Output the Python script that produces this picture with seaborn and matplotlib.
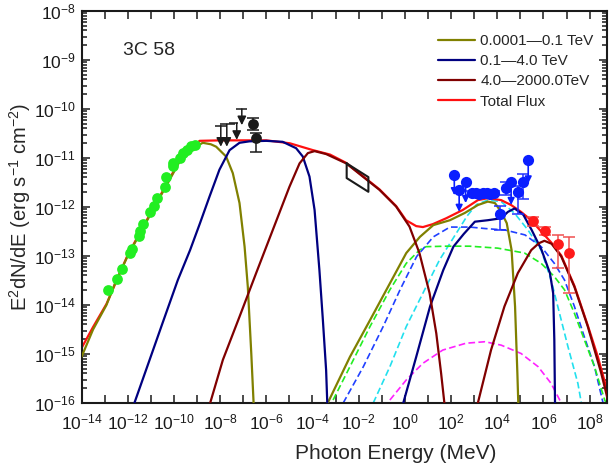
import numpy as np
import matplotlib
matplotlib.use("Agg")
import matplotlib.pyplot as plt
import seaborn as sns
from matplotlib.ticker import FixedLocator, FuncFormatter, LogLocator, NullFormatter

# ---------------- data (log10 E [MeV], log10 E^2dN/dE [erg s^-1 cm^-2]) ----------------
# model curves
olive_sync_x = [-14.0, -13.5, -12.92, -12.5, -12.0, -11.4, -10.84, -10.25, -9.67, -9.18, -8.75, -8.4,
                -8.17, -7.74, -7.45, -7.16, -6.94, -6.80, -6.65, -6.55]
olive_sync_y = [-15.06, -14.50, -14.0, -13.5, -13.0, -12.48, -12.0, -11.5, -11.0, -10.80, -10.69, -10.72,
                -10.77, -10.97, -11.31, -11.92, -12.81, -13.63, -14.99, -16.0]
olive_ic_x = [-3.34, -2.38, -1.51, -0.65, 0.06, 0.65, 1.23, 1.95, 2.60, 3.16, 3.59, 3.90, 4.17, 4.41,
              4.62, 4.77, 4.87, 4.91]
olive_ic_y = [-16.0, -15.06, -14.31, -13.56, -12.94, -12.61, -12.37, -12.27, -12.12, -11.96, -11.89,
              -11.92, -12.10, -12.33, -12.88, -14.03, -15.39, -16.0]

navy_sync_x = [-11.71, -11.0, -10.5, -9.83, -9.30, -8.87, -8.46, -8.03, -7.59, -7.16, -6.73, -6.0,
               -5.29, -4.71, -4.42, -4.13, -3.91, -3.70, -3.55, -3.41, -3.36]
navy_sync_y = [-16.0, -15.05, -14.38, -13.49, -12.88, -12.33, -11.79, -11.24, -10.84, -10.69, -10.66,
               -10.65, -10.67, -10.80, -10.97, -11.38, -12.06, -13.29, -14.31, -15.33, -16.0]
navy_ic_x = [-0.07, 0.49, 1.09, 1.66, 2.10, 2.55, 3.03, 3.59, 4.17, 4.46, 4.75, 5.13, 5.49, 5.92,
             6.28, 6.42, 6.47, 6.50]
navy_ic_y = [-16.0, -15.06, -14.03, -13.29, -12.81, -12.55, -12.30, -12.27, -12.23, -12.10, -12.03,
             -12.16, -12.47, -12.88, -13.35, -13.76, -14.71, -16.0]

dred_sync_x = [-8.43, -7.88, -7.16, -6.44, -5.72, -5.00, -4.56, -4.20, -3.91, -3.41, -2.54, -1.82,
               -1.10, -0.38, 0.20, 0.63, 1.07, 1.36, 1.57, 1.71]
dred_sync_y = [-16.0, -15.12, -14.24, -13.35, -12.47, -11.59, -11.11, -10.90, -10.86, -10.92, -11.11,
               -11.38, -11.65, -11.99, -12.40, -12.94, -13.76, -14.58, -15.40, -16.0]
dred_ic_x = [3.16, 3.73, 4.31, 4.89, 5.47, 5.80, 6.04, 6.35, 6.77, 7.34, 7.92, 8.50, 8.79]
dred_ic_y = [-16.0, -14.92, -14.03, -13.35, -12.88, -12.74, -12.69, -12.75, -13.01, -13.63, -14.44,
             -15.39, -15.94]

total_x = [-14.0, -13.5, -12.92, -12.0, -10.84, -9.67, -9.18, -8.89, -8.0, -7.0, -6.0, -4.98, -3.98,
           -3.24, -2.54, -1.82, -1.10, -0.38, 0.05, 0.49, 0.78, 1.21, 1.79, 2.51, 3.16, 3.59, 4.17,
           4.60, 5.03, 5.47, 5.90, 6.33, 6.77, 7.34, 7.92, 8.35, 8.79]
total_y = [-14.88, -14.45, -13.98, -12.98, -11.98, -10.98, -10.78, -10.65, -10.64, -10.64, -10.64,
           -10.70, -10.84, -10.93, -11.10, -11.37, -11.64, -11.98, -12.27, -12.39, -12.41, -12.35,
           -12.23, -12.06, -11.86, -11.82, -11.86, -11.96, -12.10, -12.27, -12.50, -12.72, -12.99,
           -13.61, -14.42, -15.05, -15.80]

green_dash_x = [-3.11, -2.38, -1.51, -0.65, 0.06, 0.63, 0.92, 1.79, 2.80, 4.02, 5.18, 5.90, 6.47,
                6.91, 7.34, 7.77, 8.21, 8.65, 8.72]
green_dash_y = [-15.94, -15.26, -14.44, -13.69, -13.15, -12.88, -12.81, -12.80, -12.80, -12.84, -12.94,
                -13.15, -13.42, -13.69, -14.17, -14.71, -15.26, -15.94, -16.0]
blue_dash_x = [-2.67, -1.80, -0.94, -0.21, 0.51, 1.23, 1.95, 2.82, 3.47, 4.34, 5.20, 5.90, 6.47, 6.91,
               7.34, 7.77, 8.21, 8.58]
blue_dash_y = [-16.0, -15.26, -14.44, -13.69, -13.01, -12.61, -12.41, -12.41, -12.44, -12.47, -12.57,
               -12.81, -13.15, -13.49, -14.03, -14.65, -15.26, -16.0]
cyan_dash_x = [-1.37, -0.65, 0.06, 0.78, 1.50, 2.22, 2.70, 3.10, 3.59, 4.17, 4.75, 5.33, 5.90, 6.33,
               6.62, 7.06, 7.49, 7.64]
cyan_dash_y = [-16.0, -15.26, -14.44, -13.76, -13.08, -12.54, -12.18, -11.95, -11.86, -11.89, -12.13,
               -12.47, -12.88, -13.49, -14.03, -14.85, -15.60, -16.0]
mag_dash_x = [-0.65, 0.06, 0.78, 1.64, 2.65, 3.47, 4.17, 5.03, 5.77, 6.33, 6.77]
mag_dash_y = [-15.94, -15.53, -15.19, -14.92, -14.78, -14.75, -14.82, -14.99, -15.26, -15.60, -16.0]

# observations
radio_x = [-12.86, -12.47, -12.26, -11.92, -11.81, -11.52, -11.45, -11.32, -11.04, -10.88, -10.72,
           -10.38, -10.33, -10.02, -10.05, -9.73, -9.59, -9.44, -9.25, -9.07]
radio_y = [-13.69, -13.47, -13.27, -12.93, -12.86, -12.59, -12.50, -12.35, -12.10, -11.98, -11.82,
           -11.60, -11.39, -11.16, -11.10, -10.99, -10.90, -10.84, -10.75, -10.73]

ir_ul_x = [-7.97, -7.71, -7.28, -7.06]
ir_ul_xlo = [-8.22, -8.00, -7.61, -7.31]
ir_ul_xhi = [-7.71, -7.36, -7.23, -6.85]
ir_ul_y = [-10.34, -10.31, -10.29, -10.00]
ir_ul_tip = [-10.77, -10.77, -10.63, -10.33]

opt_x = [-6.59, -6.45]
opt_y = [-10.31, -10.60]
opt_lo = [-10.43, -10.87]
opt_hi = [-10.18, -10.48]

xray_box_x = [-2.52, -1.58, -1.58, -2.52, -2.52]
xray_box_y = [-11.11, -11.39, -11.69, -11.41, -11.11]

lat_x = [2.89, 3.06, 3.22, 3.38, 3.54, 3.70, 3.88, 4.12, 4.36, 4.88, 5.13]
lat_y = [-11.72, -11.72, -11.73, -11.72, -11.71, -11.73, -11.72, -12.15, -11.62, -11.69, -11.50]
lat_lo = [-11.76, -11.76, -11.77, -11.76, -11.75, -11.77, -11.76, -12.47, -11.75, -12.15, -11.83]
lat_hi = [-11.68, -11.68, -11.69, -11.68, -11.67, -11.69, -11.68, -11.99, -11.48, -11.58, -11.33]
lat_ul_x = [2.14, 2.35, 2.63, 4.60, 5.34]
lat_ul_y = [-11.35, -11.65, -11.48, -11.50, -11.04]
lat_ul_tip = [-11.76, -12.10, -11.92, -11.96, -11.52]

tev_x = [5.56, 6.07, 6.61, 7.10]
tev_y = [-12.29, -12.48, -12.76, -12.93]
tev_lo = [-12.38, -12.58, -13.25, -13.76]
tev_hi = [-12.20, -12.40, -12.57, -12.61]

legend_labels = ["0.0001\u20140.1 TeV", "0.1\u20144.0 TeV", "4.0\u20142000.0TeV", "Total Flux"]
source_name = "3C 58"

# ---------------- style ----------------
sns.set_theme(style="ticks")
plt.rcParams["font.family"] = ["Liberation Sans", "DejaVu Sans"]
plt.rcParams["mathtext.fontset"] = "custom"
plt.rcParams["mathtext.rm"] = "Liberation Sans"
plt.rcParams["mathtext.it"] = "Liberation Sans:italic"
plt.rcParams["mathtext.bf"] = "Liberation Sans:bold"

P = lambda a: 10.0 ** np.asarray(a, dtype=float)

fig = plt.figure(figsize=(6.12, 4.70), dpi=100)
ax = fig.add_axes([0.1332, 0.1426, 0.9918 - 0.1332, 0.9766 - 0.1426])
ax.set_xscale("log")
ax.set_yscale("log")


def curve(xs, ys, color, lw=1.5, ls="-", z=2, label=None):
    sns.lineplot(x=P(xs), y=P(ys), sort=False, estimator=None, ax=ax, color=color,
                 linewidth=lw, linestyle=ls, zorder=z, label=label, legend=False)
    return ax.lines[-1]


dash = (0, (4, 2))
curve(mag_dash_x, mag_dash_y, "#ff22ff", lw=1.2, ls=dash, z=1)
curve(cyan_dash_x, cyan_dash_y, "#22e0ee", lw=1.2, ls=dash, z=1)
curve(blue_dash_x, blue_dash_y, "#2040ff", lw=1.2, ls=dash, z=1)
curve(green_dash_x, green_dash_y, "#22ee22", lw=1.2, ls=dash, z=1)

h_tot = curve(total_x, total_y, "#ff1010", lw=1.6, z=2)
h_ol = curve(olive_sync_x, olive_sync_y, "#808000", lw=1.6, z=3)
curve(olive_ic_x, olive_ic_y, "#808000", lw=1.6, z=3)
h_nv = curve(navy_sync_x, navy_sync_y, "#000080", lw=1.6, z=3)
curve(navy_ic_x, navy_ic_y, "#000080", lw=1.6, z=3)
h_dr = curve(dred_sync_x, dred_sync_y, "#800000", lw=1.6, z=3)
curve(dred_ic_x, dred_ic_y, "#800000", lw=1.6, z=3)

# radio points
sns.scatterplot(x=P(radio_x), y=P(radio_y), color="#22ee22", s=60, linewidth=0, ax=ax, zorder=5,
                legend=False)

# IR upper limits
ax.hlines(P(ir_ul_y), P(ir_ul_xlo), P(ir_ul_xhi), color="k", lw=1.1, zorder=5)
for x, y, t in zip(ir_ul_x, ir_ul_y, ir_ul_tip):
    ax.annotate("", xy=(P(x), P(t)), xytext=(P(x), P(y)),
                arrowprops=dict(arrowstyle="-|>", color="k", lw=1.1, mutation_scale=13,
                                shrinkA=0, shrinkB=0), zorder=5)

# optical points
ax.errorbar(P(opt_x), P(opt_y), yerr=[P(opt_y) - P(opt_lo), P(opt_hi) - P(opt_y)], fmt="none",
            ecolor="k", elinewidth=1.1, capsize=4, capthick=1.1, zorder=5)
sns.scatterplot(x=P(opt_x), y=P(opt_y), color="k", s=60, linewidth=0, ax=ax, zorder=6, legend=False)

# X-ray bow-tie
ax.plot(P(xray_box_x), P(xray_box_y), color="k", lw=1.5, zorder=5)

# Fermi-LAT
ax.errorbar(P(lat_x), P(lat_y), yerr=[P(lat_y) - P(lat_lo), P(lat_hi) - P(lat_y)], fmt="none",
            ecolor="#2030ff", elinewidth=1.1, capsize=4, capthick=1.1, zorder=5)
sns.scatterplot(x=P(lat_x), y=P(lat_y), color="#0a1eff", s=65, linewidth=0, ax=ax, zorder=6,
                legend=False)
for x, y, t in zip(lat_ul_x, lat_ul_y, lat_ul_tip):
    ax.annotate("", xy=(P(x), P(t)), xytext=(P(x), P(y)),
                arrowprops=dict(arrowstyle="-|>", color="#0a1eff", lw=1.2, mutation_scale=10,
                                shrinkA=0, shrinkB=0), zorder=5)
sns.scatterplot(x=P(lat_ul_x), y=P(lat_ul_y), color="#0a1eff", s=65, linewidth=0, ax=ax, zorder=6,
                legend=False)

# TeV points
ax.errorbar(P(tev_x), P(tev_y), yerr=[P(tev_y) - P(tev_lo), P(tev_hi) - P(tev_y)], fmt="none",
            ecolor="#f05050", elinewidth=1.1, capsize=4, capthick=1.1, zorder=5)
sns.scatterplot(x=P(tev_x), y=P(tev_y), color="#ff1a1a", s=60, linewidth=0, ax=ax, zorder=6,
                legend=False)

# ---------------- axes ----------------
ax.set_xlim(1e-14, 10 ** 8.75)
ax.set_ylim(1e-16, 1e-8)

ax.xaxis.set_major_locator(FixedLocator([10.0 ** e for e in range(-14, 9)]))
ax.xaxis.set_minor_locator(FixedLocator([]))
ax.xaxis.set_major_formatter(FuncFormatter(
    lambda v, p: (r"$\mathregular{10^{%d}}$" % round(np.log10(v))) if round(np.log10(v)) % 2 == 0 else ""))
ax.yaxis.set_major_locator(FixedLocator([10.0 ** e for e in range(-16, -7)]))
ax.yaxis.set_minor_locator(LogLocator(base=10, subs=np.arange(2, 10), numticks=50))
ax.yaxis.set_minor_formatter(NullFormatter())
ax.yaxis.set_major_formatter(FuncFormatter(lambda v, p: r"$\mathregular{10^{%d}}$" % round(np.log10(v))))

ax.tick_params(which="both", direction="in", top=True, right=True, colors="k", width=1.1)
ax.tick_params(which="major", length=6, labelsize=12.5)
ax.tick_params(axis="x", which="major", pad=7)
ax.tick_params(axis="y", which="major", pad=4)
ax.tick_params(which="minor", length=3.5)
for s in ax.spines.values():
    s.set_linewidth(1.5)
    s.set_color("k")

ax.set_xlabel("Photon Energy (MeV)", fontsize=15)
ax.xaxis.set_label_coords(0.598, -0.105)
ax.set_ylabel(r"E$^2$dN/dE (erg s$^{-1}$ cm$^{-2}$)", fontsize=14.5, labelpad=1)

ax.text(0.079, 0.9, source_name, transform=ax.transAxes, fontsize=14, va="center", ha="left")

ax.legend([h_ol, h_nv, h_dr, h_tot], legend_labels, loc="upper right", frameon=False, fontsize=11,
          handlelength=2.45, handletextpad=0.35, labelspacing=0.4, borderaxespad=0.3,
          bbox_to_anchor=(0.995, 0.968))

fig.savefig("out.png", dpi=100)
